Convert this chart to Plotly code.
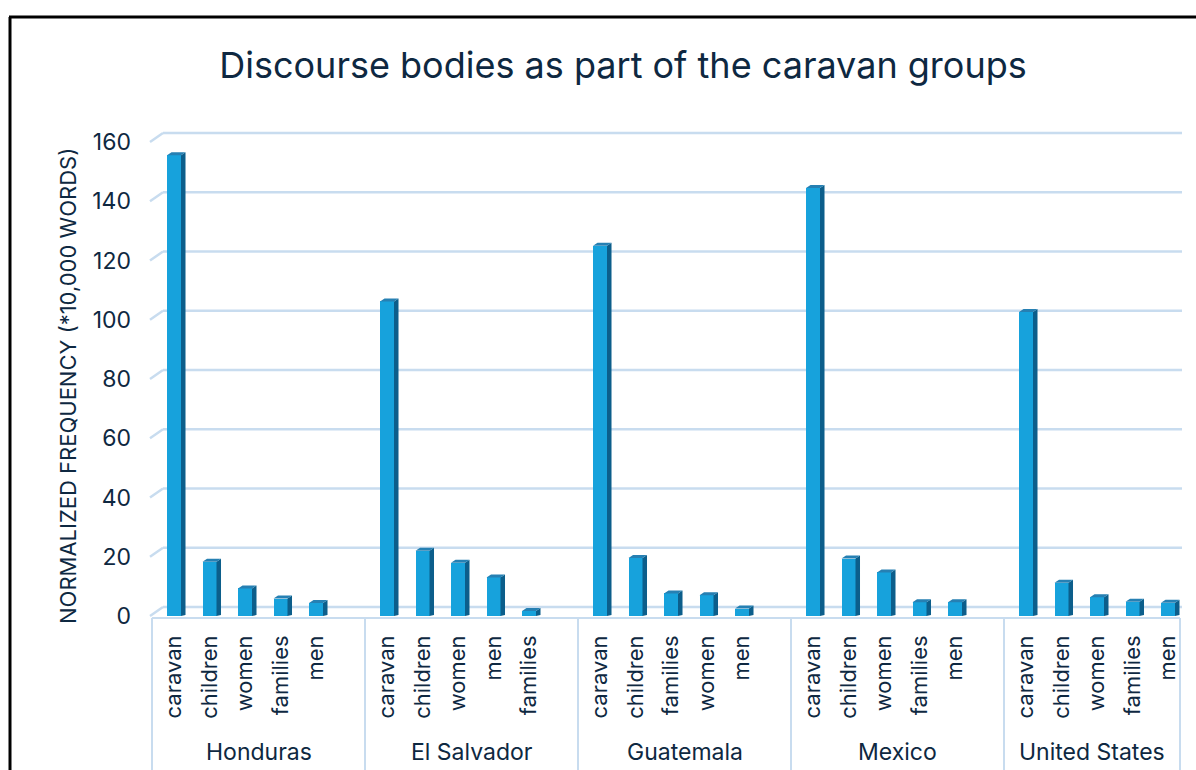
import plotly.graph_objects as go

# ---------------- data ----------------
countries = ["Honduras", "El Salvador", "Guatemala", "Mexico", "United States"]
honduras_terms = ["caravan", "children", "women", "families", "men"]
honduras_vals = [155.5, 18.3, 9.3, 5.9, 4.4]
elsalvador_terms = ["caravan", "children", "women", "men", "families"]
elsalvador_vals = [106.2, 22.0, 18.0, 13.0, 1.7]
guatemala_terms = ["caravan", "children", "families", "women", "men"]
guatemala_vals = [125.0, 19.6, 7.6, 7.0, 2.5]
mexico_terms = ["caravan", "children", "women", "families", "men"]
mexico_vals = [144.5, 19.4, 14.7, 4.6, 4.6]
us_terms = ["caravan", "children", "women", "families", "men"]
us_vals = [102.6, 11.2, 6.3, 4.8, 4.5]
y_ticks = [0, 20, 40, 60, 80, 100, 120, 140, 160]

group_terms = [honduras_terms, elsalvador_terms, guatemala_terms, mexico_terms, us_terms]
group_vals = [honduras_vals, elsalvador_vals, guatemala_vals, mexico_vals, us_vals]

# ---------------- geometry / style ----------------
W, H = 1196, 770
ML, MR, MT, MB = 150, 14, 125, 152
PW, PH = W - ML - MR, H - MT - MB
SLOT_PX = 35.5           # px per category slot
Y_PX = 2.9625            # px per value unit
X0_PX = 152              # px of first group start
X_MIN = -(X0_PX - ML) / SLOT_PX
X_MAX = X_MIN + PW / SLOT_PX
Y_MIN = -2 / Y_PX
Y_MAX = Y_MIN + PH / Y_PX
GROUP_SLOTS = 6
BAR_OFF = 0.62
BAR_W = 14 / SLOT_PX
DX = 4.5 / SLOT_PX
DY = 3.0 / Y_PX
DEPTH_X_PAPER = 13 / PW
GRID_DY = 9 / Y_PX

FONT = "Inter"
TXT = "#0E2841"
GRID = "#C8DCEF"
FRONT = "#17A2DC"
SIDE = "#0C5E8B"
TOP = "#2680B3"


def px_to_paper_x(px):
    return (px - ML) / PW


def px_to_paper_y(py):
    return (H - MB - py) / PH


def x_to_paper(x):
    return (x - X_MIN) / (X_MAX - X_MIN)


xs, ys, labels = [], [], []
for g, (terms, vals) in enumerate(zip(group_terms, group_vals)):
    for i, (t, v) in enumerate(zip(terms, vals)):
        xs.append(g * GROUP_SLOTS + i + BAR_OFF)
        ys.append(v)
        labels.append(t)

fig = go.Figure()

# front faces
fig.add_trace(go.Bar(
    x=xs, y=ys, width=BAR_W,
    marker=dict(color=FRONT, line=dict(width=0)),
    hovertext=labels, showlegend=False,
))

# side and top faces (3D look) derived from values
side_x, side_y, top_x, top_y = [], [], [], []
for x, v in zip(xs, ys):
    xl, xr = x - BAR_W / 2, x + BAR_W / 2
    side_x += [xr, xr + DX, xr + DX, xr, xr, None]
    side_y += [0, DY * 0.3, v + DY, v, 0, None]
    top_x += [xl, xr, xr + DX, xl + DX, xl, None]
    top_y += [v, v, v + DY, v + DY, v, None]
fig.add_trace(go.Scatter(x=side_x, y=side_y, mode="lines", fill="toself",
                         fillcolor=SIDE, line=dict(width=0, color=SIDE),
                         hoverinfo="skip", showlegend=False))
fig.add_trace(go.Scatter(x=top_x, y=top_y, mode="lines", fill="toself",
                         fillcolor=TOP, line=dict(width=0, color=TOP),
                         hoverinfo="skip", showlegend=False))

shapes = []
# gridlines: short side-wall diagonal + back-wall horizontal
for v in y_ticks:
    shapes.append(dict(type="line", xref="paper", yref="y", x0=0, y0=v,
                       x1=DEPTH_X_PAPER, y1=v + GRID_DY,
                       line=dict(color=GRID, width=2.5), layer="below"))
    shapes.append(dict(type="line", xref="paper", yref="y", x0=DEPTH_X_PAPER, y0=v + GRID_DY,
                       x1=1, y1=v + GRID_DY,
                       line=dict(color=GRID, width=2.5), layer="below"))

# group dividers
bounds = [x_to_paper(g * GROUP_SLOTS) for g in range(len(countries))] + [px_to_paper_x(1180)]
for b in bounds:
    shapes.append(dict(type="line", xref="paper", yref="paper", x0=b, x1=b,
                       y0=0, y1=px_to_paper_y(780), line=dict(color=GRID, width=2)))
# category floor line
shapes.append(dict(type="line", xref="paper", yref="paper", x0=bounds[0], x1=bounds[-1],
                   y0=px_to_paper_y(618), y1=px_to_paper_y(618), line=dict(color=GRID, width=2)))

# outer black frame
shapes.append(dict(type="line", xref="paper", yref="paper",
                   x0=px_to_paper_x(10), x1=px_to_paper_x(10),
                   y0=px_to_paper_y(800), y1=px_to_paper_y(17),
                   line=dict(color="#000000", width=3)))
shapes.append(dict(type="line", xref="paper", yref="paper",
                   x0=px_to_paper_x(9), x1=px_to_paper_x(1220),
                   y0=px_to_paper_y(17), y1=px_to_paper_y(17),
                   line=dict(color="#000000", width=3)))

annotations = []
for g, c in enumerate(countries):
    center = (bounds[g] + bounds[g + 1]) / 2
    annotations.append(dict(text=c, xref="paper", yref="paper", x=center, y=0,
                            xanchor="center", yanchor="middle", yshift=-134,
                            showarrow=False, font=dict(size=23, color=TXT, family=FONT)))

annotations.append(dict(text="NORMALIZED FREQUENCY (*10,000 WORDS)", xref="paper", yref="paper",
                        x=px_to_paper_x(68), y=px_to_paper_y(386), textangle=-90,
                        xanchor="center", yanchor="middle", showarrow=False,
                        font=dict(size=22, color=TXT, family=FONT)))

fig.update_layout(
    width=W, height=H,
    margin=dict(l=ML, r=MR, t=MT, b=MB),
    paper_bgcolor="white", plot_bgcolor="white",
    title=dict(text="Discourse bodies as part of the caravan groups",
               x=623 / W, xanchor="center", y=1 - 65 / H, yanchor="middle",
               font=dict(size=36, color=TXT, family=FONT)),
    xaxis=dict(range=[X_MIN, X_MAX], tickvals=xs, ticktext=labels, tickangle=-90,
               showgrid=False, zeroline=False, showline=False, ticks="",
               ticklabelstandoff=12, tickfont=dict(size=22, color=TXT, family=FONT)),
    yaxis=dict(range=[Y_MIN, Y_MAX], tickvals=y_ticks, showgrid=False, zeroline=False,
               showline=False, ticks="", ticklabelstandoff=18,
               tickfont=dict(size=23, color=TXT, family=FONT)),
    shapes=shapes, annotations=annotations,
    bargap=0, font=dict(family=FONT, color=TXT),
)

fig.write_html("out.html")
